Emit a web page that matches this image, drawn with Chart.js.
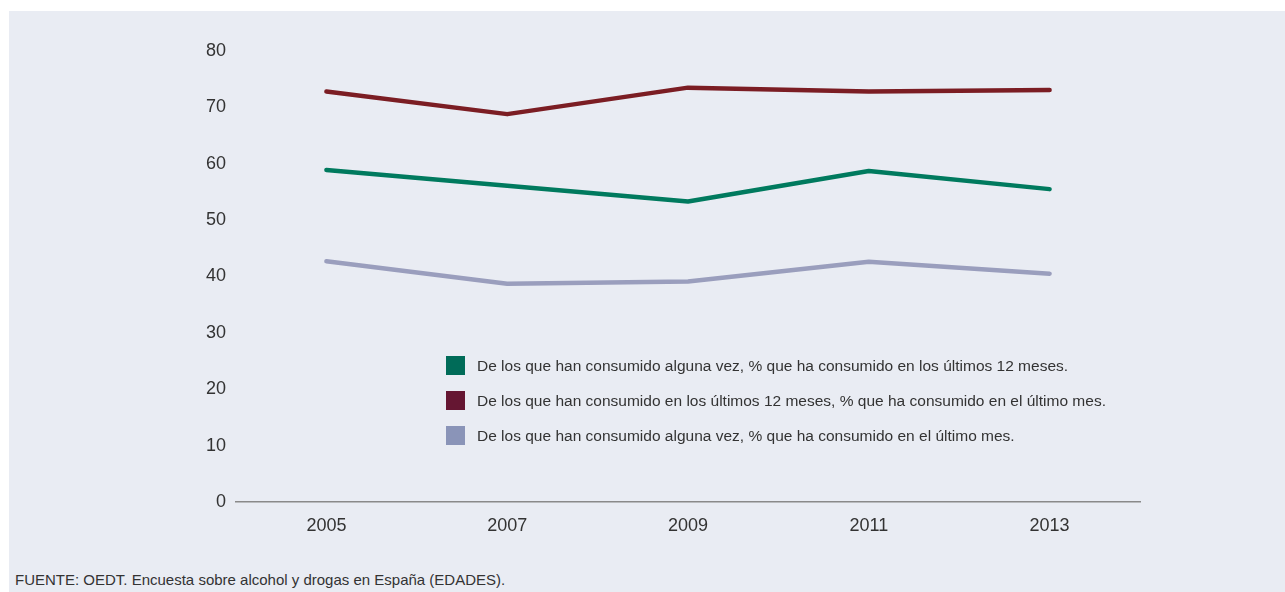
<!DOCTYPE html>
<html>
<head>
<meta charset="utf-8">
<script src="https://cdn.jsdelivr.net/npm/chart.js@4.4.1/dist/chart.umd.min.js"></script>
<style>
  html, body { margin: 0; padding: 0; background: #fff; }
  body { width: 1285px; height: 592px; position: relative; overflow: hidden; font-family: "Liberation Sans", Arial, sans-serif; }
  #panel { position: absolute; left: 9px; top: 11px; width: 1276px; height: 581px; background: #e9ecf3; }
  #chart { position: absolute; left: 0; top: 0; }
  #source { position: absolute; left: 6px; top: 560px; font-size: 15px; color: #333; }
</style>
</head>
<body>
<div id="panel">
  <canvas id="chart" width="1276" height="549"></canvas>
  <div id="source">FUENTE: OEDT. Encuesta sobre alcohol y drogas en España (EDADES).</div>
</div>
<script>
const years = ['2005', '2007', '2009', '2011', '2013'];
const yTicks = [0, 10, 20, 30, 40, 50, 60, 70, 80];

const everTo12m = [58.9, 56.1, 53.3, 58.7, 55.5];
const last12mToMonth = [72.8, 68.8, 73.5, 72.8, 73.1];
const everToMonth = [42.7, 38.7, 39.1, 42.6, 40.5];

const seriesLabels = [
    'De los que han consumido alguna vez, % que ha consumido en los últimos 12 meses.',
    'De los que han consumido en los últimos 12 meses, % que ha consumido en el último mes.',
    'De los que han consumido alguna vez, % que ha consumido en el último mes.'
];

const textColor = '#333333';

// legend drawn inside the plot, below the lines
const insideLegend = {
    id: 'insideLegend',
    afterDraw(chart) {
        const ctx = chart.ctx;
        const x = 437, y0 = 345, box = 19, gap = 35;
        ctx.save();
        ctx.font = '15.5px "Liberation Sans", Arial, sans-serif';
        ctx.textBaseline = 'middle';
        ctx.textAlign = 'left';
        chart.data.datasets.forEach((ds, i) => {
            const y = y0 + i * gap;
            ctx.fillStyle = ds.legendColor;
            ctx.fillRect(x, y, box, box);
            ctx.fillStyle = textColor;
            ctx.fillText(ds.label, x + 31, y + box / 2 + 1);
        });
        ctx.restore();
    }
};

new Chart(document.getElementById('chart'), {
    type: 'line',
    data: {
        labels: years,
        datasets: [
            {
                label: seriesLabels[0],
                data: everTo12m,
                borderColor: '#007a5e',
                legendColor: '#006b58'
            },
            {
                label: seriesLabels[1],
                data: last12mToMonth,
                borderColor: '#7b1d23',
                legendColor: '#651632'
            },
            {
                label: seriesLabels[2],
                data: everToMonth,
                borderColor: '#9a9ebd',
                legendColor: '#8a94b8'
            }
        ]
    },
    options: {
        responsive: false,
        animation: false,
        devicePixelRatio: 1,
        layout: { padding: { top: 40, right: 145, left: 0, bottom: 18 } },
        elements: {
            line: { borderWidth: 4.5, tension: 0, borderCapStyle: 'round', borderJoinStyle: 'round' },
            point: { radius: 0, hoverRadius: 0 }
        },
        plugins: {
            legend: { display: false },
            tooltip: { enabled: false }
        },
        scales: {
            y: {
                min: 0,
                max: 80,
                afterFit(scale) { scale.width = 227; },
                afterBuildTicks(scale) { scale.ticks = yTicks.map(v => ({ value: v })); },
                grid: { display: false, drawTicks: false },
                border: { display: false },
                ticks: {
                    padding: 10,
                    color: textColor,
                    font: { family: '"Liberation Sans", Arial, sans-serif', size: 18 }
                }
            },
            x: {
                offset: true,
                afterFit(scale) { scale.height = 40; },
                grid: { display: false, drawTicks: false },
                border: { display: true, color: '#8a8a8a', width: 1.5 },
                ticks: {
                    padding: 13,
                    color: textColor,
                    font: { family: '"Liberation Sans", Arial, sans-serif', size: 18 }
                }
            }
        }
    },
    plugins: [insideLegend]
});
</script>
</body>
</html>
